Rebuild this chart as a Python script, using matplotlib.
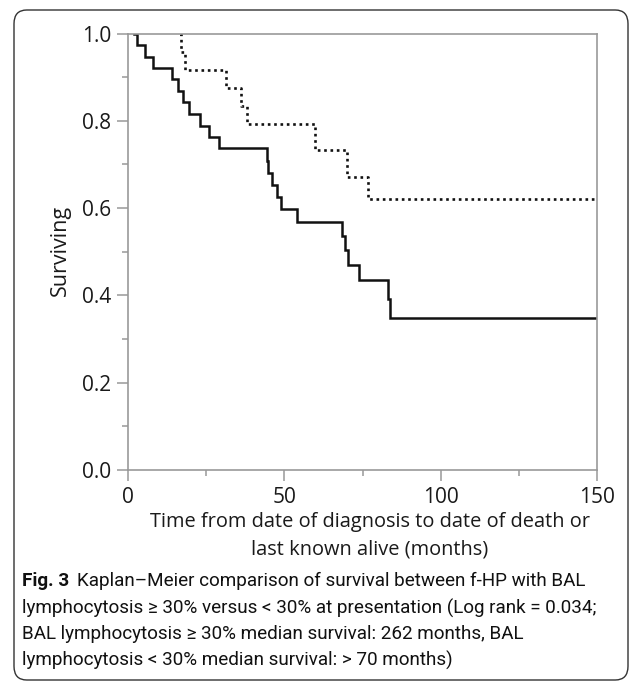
import matplotlib.pyplot as plt
from matplotlib.patches import FancyBboxPatch
from matplotlib.ticker import MultipleLocator

# survival curves (time in months, survival after the step)
solid_times = [2.0, 3.0, 5.5, 8.0, 14.0, 16.0, 17.5, 19.5, 23.0, 26.0, 29.0,
               44.3, 44.8, 46.0, 47.5, 49.0, 54.0, 68.3, 69.5, 70.4, 74.0,
               83.2, 83.7, 150.0]
solid_surv = [1.0, 0.974, 0.947, 0.921, 0.895, 0.868, 0.842, 0.816, 0.789,
              0.763, 0.737, 0.709, 0.681, 0.653, 0.625, 0.597, 0.569, 0.537,
              0.505, 0.470, 0.435, 0.392, 0.348, 0.348]

dotted_times = [16.6, 17.0, 18.3, 31.5, 36.3, 38.0, 59.8, 70.1, 76.8, 150.0]
dotted_surv = [1.0, 0.958, 0.917, 0.875, 0.833, 0.792, 0.733, 0.672, 0.620,
               0.620]

xticks = [0, 50, 100, 150]
yticks = [0.0, 0.2, 0.4, 0.6, 0.8, 1.0]

caption_lines = [
    "Kaplan\u2013Meier comparison of survival between f-HP with BAL",
    "lymphocytosis \u2265 30% versus < 30% at presentation (Log rank = 0.034;",
    "BAL lymphocytosis \u2265 30% median survival: 262 months, BAL",
    "lymphocytosis < 30% median survival: > 70 months)",
]

plt.rcParams['font.family'] = ['Open Sans', 'DejaVu Sans']

W, H = 638, 689
fig = plt.figure(figsize=(W / 100, H / 100), dpi=100)

# rounded frame round the whole figure
box = FancyBboxPatch((14 / W, 1 - 680 / H), (628 - 14) / W, (680 - 10) / H,
                     boxstyle='round,pad=0,rounding_size=0.02',
                     transform=fig.transFigure, fill=False,
                     edgecolor='#333333', linewidth=1.0)
fig.patches.append(box)

ax = fig.add_axes([128 / W, 1 - 470 / H, (597 - 128) / W, (470 - 33.5) / H])

ax.step(solid_times, solid_surv, where='post', color='#111111', lw=1.8,
        solid_joinstyle='miter')
ax.step(dotted_times, dotted_surv, where='post', color='#111111', lw=1.9,
        linestyle=(0, (1.0, 1.4)))

ax.set_xlim(0, 150)
ax.set_ylim(0, 1.0)
ax.set_xticks(xticks)
ax.set_yticks(yticks)
ax.set_yticklabels([f'{v:.1f}' for v in yticks])
ax.xaxis.set_minor_locator(MultipleLocator(25))
ax.yaxis.set_minor_locator(MultipleLocator(0.1))

for s in ax.spines.values():
    s.set_color('#999999')
    s.set_linewidth(1.2)
ax.tick_params(which='major', length=8, width=1.1, color='#999999',
               labelsize=15, labelcolor='#1a1a1a', pad=4)
ax.tick_params(which='minor', length=4, width=1.1, color='#999999')

fig.text(60 / W, 1 - 250 / H, 'Surviving', rotation=90, ha='center',
         va='center', fontsize=15.5, color='#1a1a1a')
fig.text(370 / W, 1 - 522 / H, 'Time from date of diagnosis to date of death or',
         ha='center', va='center', fontsize=14.4, color='#1a1a1a')
fig.text(370 / W, 1 - 550 / H, 'last known alive (months)',
         ha='center', va='center', fontsize=14.4, color='#1a1a1a')

# caption with bold "Fig. 3" prefix
cap_font = ['Roboto', 'DejaVu Sans']
cap_size = 13.6
x0 = 22 / W
fig.canvas.draw()
r = fig.canvas.get_renderer()
bold = fig.text(x0, 1 - 581 / H, 'Fig. 3', fontsize=cap_size, fontweight='bold',
                family=cap_font, va='center', color='#111111')
bb = bold.get_window_extent(renderer=r)
fig.text(bb.x1 / W + 8 / W, 1 - 581 / H, caption_lines[0], fontsize=cap_size,
         family=cap_font, va='center', color='#111111')
for i, line in enumerate(caption_lines[1:]):
    fig.text(x0, 1 - (608 + 26 * i) / H, line, fontsize=cap_size,
             family=cap_font, va='center', color='#111111')

fig.savefig('out.png', dpi=100)
